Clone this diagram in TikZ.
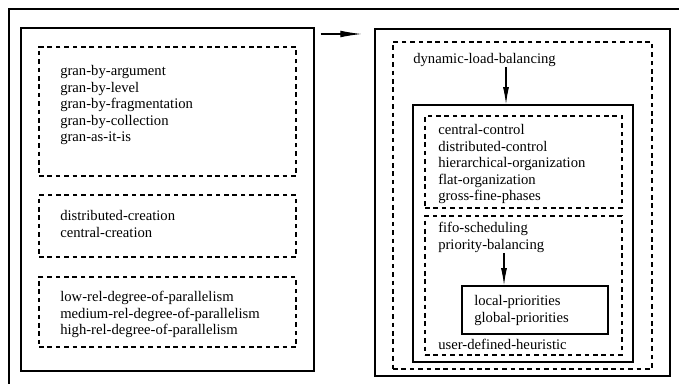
\documentclass[tikz,border=0pt]{standalone}
\usepackage{fontspec}
\setmainfont{Liberation Serif}
\usetikzlibrary{arrows.meta,fit}

\begin{document}
\begin{tikzpicture}[x=0.75pt,y=-0.75pt,
  solidbox/.style={draw,line width=0.9pt,inner sep=0pt},
  dashbox/.style={draw,line width=0.8pt,dash pattern=on 3.5pt off 2.8pt,inner sep=0pt},
  item/.style={anchor=west,inner sep=0pt,text height=8pt,text depth=2.5pt,font=\fontsize{11}{13}\selectfont},
  tip/.style={line width=0.8pt,-{Latex[length=13pt,width=4.5pt]}}]
\path[use as bounding box] (0,0) rectangle (679,384);
% frame
\draw[line width=0.9pt] (9,384) -- (9,9) -- (679,9);

% left half
\node[solidbox,fit={(21,28) (314,371)}] (leftbox) {};
\node[dashbox,fit={(39,47) (296,176)}] (granbox) {};
\node[item] (gran1) at (60,72) {gran-by-argument};
\node[item] (gran2) at (60,88.5) {gran-by-level};
\node[item] (gran3) at (60,105) {gran-by-fragmentation};
\node[item] (gran4) at (60,121.5) {gran-by-collection};
\node[item] (gran5) at (60,138) {gran-as-it-is};
\node[dashbox,fit={(39,195) (296,257)}] (creabox) {};
\node[item] (crea1) at (60,217) {distributed-creation};
\node[item] (crea2) at (60,233.5) {central-creation};
\node[dashbox,fit={(39,277) (296,347)}] (parbox) {};
\node[item] (par1) at (60,298) {low-rel-degree-of-parallelism};
\node[item] (par2) at (60,314.5) {medium-rel-degree-of-parallelism};
\node[item] (par3) at (60,331) {high-rel-degree-of-parallelism};

% right half
\node[solidbox,fit={(375,29) (670,376)}] (rightbox) {};
\node[dashbox,fit={(393,42) (652,369)}] (dynbox) {};
\node[item] (dlb) at (413,60) {dynamic-load-balancing};
\node[solidbox,fit={(413,105) (633,362)}] (ctrlbox) {};
\node[dashbox,fit={(425,116) (622,208)}] (orgbox) {};
\node[item] (org1) at (438,131) {central-control};
\node[item] (org2) at (438,147.5) {distributed-control};
\node[item] (org3) at (438,164) {hierarchical-organization};
\node[item] (org4) at (438,180.5) {flat-organization};
\node[item] (org5) at (438,197) {gross-fine-phases};
\node[dashbox,fit={(425,216) (622,355)}] (schedbox) {};
\node[item] (sched1) at (438,229) {fifo-scheduling};
\node[item] (sched2) at (438,245.5) {priority-balancing};
\node[solidbox,fit={(462,286) (608,334)}] (priobox) {};
\node[item] (prio1) at (474,302) {local-priorities};
\node[item] (prio2) at (474,318.5) {global-priorities};
\node[item] (sched3) at (438,346) {user-defined-heuristic};

% arrows
\coordinate (arry) at (0,34);
\coordinate (dlbx) at (506,0);
\coordinate (prix) at (504,0);
\draw[line width=0.8pt,-{Latex[length=16pt,width=5pt]},shorten <=4.5pt,shorten >=9.5pt]
  (leftbox.east |- arry) -- (rightbox.west |- arry);
\draw[tip] (dlb.south -| dlbx) -- (ctrlbox.north -| dlbx);
\draw[tip] (sched2.south -| prix) -- (priobox.north -| prix);
\end{tikzpicture}
\end{document}
